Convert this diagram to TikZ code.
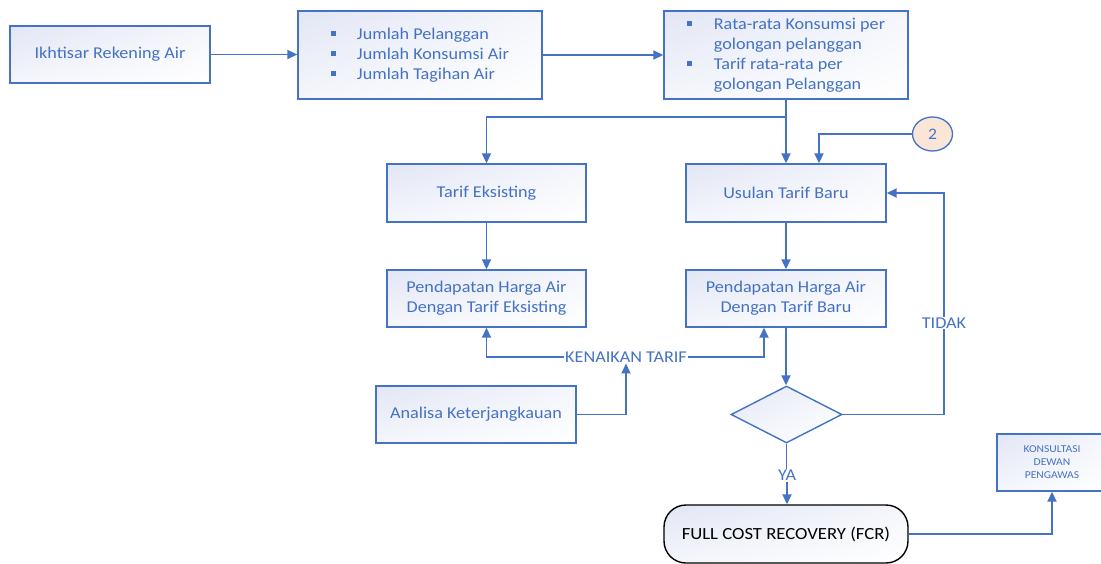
\documentclass[tikz,border=0pt]{standalone}
\usepackage{fontspec}
\setmainfont{Carlito}[FakeStretch=1.1]
\usetikzlibrary{arrows.meta,shapes.geometric,shadings,calc}
\definecolor{bl}{HTML}{4472C4}
\definecolor{lav}{HTML}{E2E6F5}
\definecolor{peach}{HTML}{FBE5D6}
\newcommand{\bulsq}{\rule[3pt]{5pt}{5pt}}
\begin{document}
\begin{tikzpicture}[x=1pt,y=-1pt,
  shadefill/.style={upper left=lav, upper right=lav!35!white, lower left=lav!35!white, lower right=white},
  pbox/.style={rectangle, draw=bl, line width=1.4pt, inner sep=0pt, shadefill, text=bl,
               font=\fontsize{16.5}{20}\selectfont, align=center},
  conn/.style={draw=bl, line width=1.8pt, -{Triangle[length=10pt,width=9pt]}},
  wire/.style={draw=bl, line width=1.8pt},
  lbl/.style={text=bl, font=\fontsize{16.5}{20}\selectfont, inner sep=1pt}]
\useasboundingbox (0,0) rectangle (1101,563);
\fill[white] (0,0) rectangle (1101,563);

\node[pbox, minimum width=200pt, minimum height=57pt] (b1) at (110,54.5) {Ikhtisar Rekening Air};
\node[pbox, minimum width=244pt, minimum height=88pt] (b2) at (420,55)
  {\begin{tabular}{@{}l@{\hspace{21pt}}l@{}}\bulsq&Jumlah Pelanggan\\ \bulsq&Jumlah Konsumsi Air\\ \bulsq&Jumlah Tagihan Air\end{tabular}};
\node[pbox, minimum width=244pt, minimum height=88pt] (b3) at (786,55)
  {\begin{tabular}{@{}l@{\hspace{22pt}}l@{}}\bulsq&Rata-rata Konsumsi per\\ &golongan pelanggan\\ \bulsq&Tarif rata-rata per\\ &golongan Pelanggan\end{tabular}};
\node[pbox, minimum width=199pt, minimum height=58pt] (te) at (486.5,193) {Tarif Eksisting};
\node[pbox, minimum width=200pt, minimum height=58pt] (ub) at (786,193) {Usulan Tarif Baru};
\node[pbox, minimum width=199pt, minimum height=57pt] (pe) at (486.5,298.5) {Pendapatan Harga Air\\Dengan Tarif Eksisting};
\node[pbox, minimum width=200pt, minimum height=57pt] (pb) at (786,298.5) {Pendapatan Harga Air\\Dengan Tarif Baru};
\node[pbox, minimum width=200pt, minimum height=57pt] (an) at (476,414.5) {Analisa Keterjangkauan};
\node[pbox, diamond, minimum width=111pt, minimum height=57pt] (dg) at (786.5,414.5) {};
\node[rectangle, rounded corners=22pt, draw=black, line width=1.4pt, shadefill, inner sep=0pt,
      minimum width=244pt, minimum height=58pt, font=\fontsize{17}{20}\selectfont] (fcr) at (786,534) {FULL COST RECOVERY (FCR)};
\node[pbox, minimum width=110pt, minimum height=57pt, font=\fontsize{10.5}{13}\selectfont] (ko) at (1052,462.5) {KONSULTASI\\DEWAN\\PENGAWAS};
\node[ellipse, draw=bl, line width=1.3pt, fill=peach, minimum width=40pt, minimum height=34pt, inner sep=0pt,
      text=bl, font=\fontsize{16}{18}\selectfont] (c2) at (932.5,134) {2};

\node[lbl] (kt) at (626,357) {KENAIKAN TARIF};
\node[lbl] (td) at (944,323) {TIDAK};
\node[lbl] (ya) at (787,475) {YA};

\draw[conn] (b1.east) -- (b1.east -| b2.west);
\draw[conn] (b2.east) -- (b2.east -| b3.west);
\draw[conn] (b3.south) -- (ub.north);
\draw[conn] ($(b3.south)+(0,17)$) -| (te.north);
\draw[conn] (c2.west) -| ($(ub.north)+(33,0)$);
\draw[conn] (te.south) -- (pe.north);
\draw[conn] (ub.south) -- (pb.north);
\draw[conn] (pb.south) -- (pb.south |- dg.north);
\draw[wire] (dg.east) -| (td.south);
\draw[conn] (td.north) |- (ub.east);
\draw[wire] (dg.south) -- (dg.south |- ya.north);
\draw[conn] (ya.south) -- (ya.south |- fcr.north);
\draw[conn] (kt.west) -| (pe.south);
\draw[conn] (kt.east) -| ($(pb.south)+(-22,0)$);
\draw[conn] (an.east) -| (kt.south);
\draw[conn] (fcr.east) -| (ko.south);
\end{tikzpicture}
\end{document}
